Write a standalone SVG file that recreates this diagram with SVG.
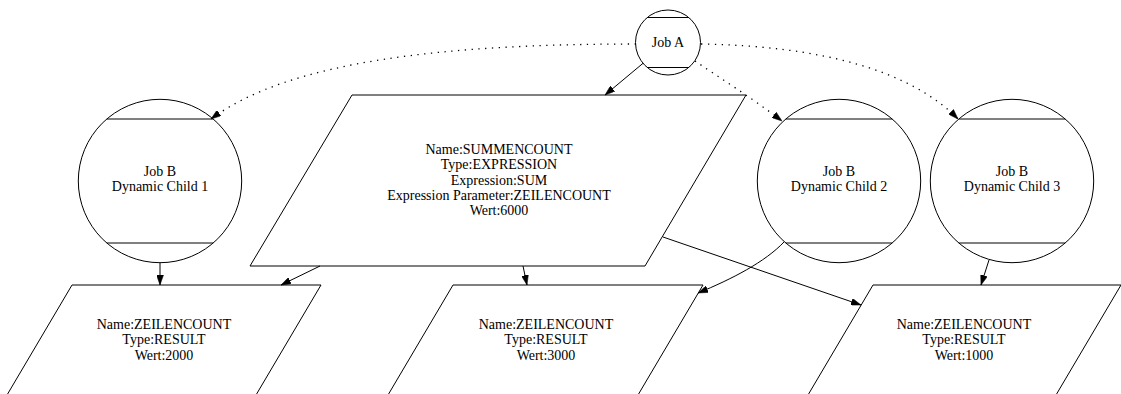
<svg xmlns="http://www.w3.org/2000/svg" width="1121" height="394" viewBox="0 0 1121 394">
<defs>
<style>
.shape{fill:#ffffff;stroke:#000000;stroke-width:1}
.bar{fill:none;stroke:#000000;stroke-width:1}
.t{font-family:"Liberation Serif","Times New Roman",serif;font-size:14px;fill:#000000;text-anchor:middle}
.edge{fill:none;stroke:#000000;stroke-width:1}
.dot{stroke-width:1.3;stroke-dasharray:1.3,5.5}
</style>
<marker id="arr" markerUnits="userSpaceOnUse" markerWidth="10" markerHeight="7" refX="10" refY="3.5" orient="auto">
<path d="M0,0 L10,3.5 L0,7 Z" fill="#000000" stroke="#000000" stroke-width="0.5"/>
</marker>
</defs>
<rect x="0" y="0" width="1121" height="394" fill="#ffffff"/>

<g id="jobA">
<circle class="shape" cx="668" cy="42.5" r="32.5"/>
<line class="bar" x1="647.2" y1="17.5" x2="688.8" y2="17.5"/>
<line class="bar" x1="647.2" y1="67.5" x2="688.8" y2="67.5"/>
<text class="t" x="668" y="47">Job A</text>
</g>

<g id="child1">
<circle class="shape" cx="160" cy="181" r="81.7"/>
<line class="bar" x1="106.8" y1="119" x2="213.2" y2="119"/>
<line class="bar" x1="106.8" y1="243" x2="213.2" y2="243"/>
<text class="t" x="160" y="175.5">Job B</text>
<text class="t" x="160" y="191">Dynamic Child 1</text>
</g>

<g id="child2">
<circle class="shape" cx="839" cy="181" r="81.7"/>
<line class="bar" x1="785.8" y1="119" x2="892.2" y2="119"/>
<line class="bar" x1="785.8" y1="243" x2="892.2" y2="243"/>
<text class="t" x="839" y="175.5">Job B</text>
<text class="t" x="839" y="191">Dynamic Child 2</text>
</g>

<g id="child3">
<circle class="shape" cx="1012" cy="181" r="81.7"/>
<line class="bar" x1="958.8" y1="119" x2="1065.2" y2="119"/>
<line class="bar" x1="958.8" y1="243" x2="1065.2" y2="243"/>
<text class="t" x="1012" y="175.5">Job B</text>
<text class="t" x="1012" y="191">Dynamic Child 3</text>
</g>

<g id="summencount">
<polygon class="shape" points="352,95 746,95 645,266 250,266"/>
<text class="t" x="499" y="154">Name:SUMMENCOUNT</text>
<text class="t" x="499" y="169.25">Type:EXPRESSION</text>
<text class="t" x="499" y="184.5">Expression:SUM</text>
<text class="t" x="499" y="199.75">Expression Parameter:ZEILENCOUNT</text>
<text class="t" x="499" y="215">Wert:6000</text>
</g>

<g id="zeilen1">
<polygon class="shape" points="72,285 321,285 256,395 7,395"/>
<text class="t" x="164" y="329">Name:ZEILENCOUNT</text>
<text class="t" x="164" y="344.3">Type:RESULT</text>
<text class="t" x="164" y="359.5">Wert:2000</text>
</g>

<g id="zeilen2">
<polygon class="shape" points="453,285 703,285 638,395 388,395"/>
<text class="t" x="546" y="329">Name:ZEILENCOUNT</text>
<text class="t" x="546" y="344.3">Type:RESULT</text>
<text class="t" x="546" y="359.5">Wert:3000</text>
</g>

<g id="zeilen3">
<polygon class="shape" points="873,285 1121,285 1056,395 808,395"/>
<text class="t" x="964" y="329">Name:ZEILENCOUNT</text>
<text class="t" x="964" y="344.3">Type:RESULT</text>
<text class="t" x="964" y="359.5">Wert:1000</text>
</g>

<g id="connectors">
<path class="edge" d="M643,63.3 L605,95" marker-end="url(#arr)"/>
<path class="edge dot" d="M636,44 C450,44 290,60 211,119" marker-end="url(#arr)"/>
<path class="edge dot" d="M695,61 C720,78 752,98 782,121" marker-end="url(#arr)"/>
<path class="edge dot" d="M701,44 C820,46 910,70 958,119" marker-end="url(#arr)"/>
<path class="edge" d="M160,263 L160,285" marker-end="url(#arr)"/>
<path class="edge" d="M320,266 L281,285" marker-end="url(#arr)"/>
<path class="edge" d="M523,266 L527,285" marker-end="url(#arr)"/>
<path class="edge" d="M663,237 L861,305" marker-end="url(#arr)"/>
<path class="edge" d="M784,242 C765,262 732,279 698,293" marker-end="url(#arr)"/>
<path class="edge" d="M989,260 L981,285" marker-end="url(#arr)"/>
</g>
</svg>
